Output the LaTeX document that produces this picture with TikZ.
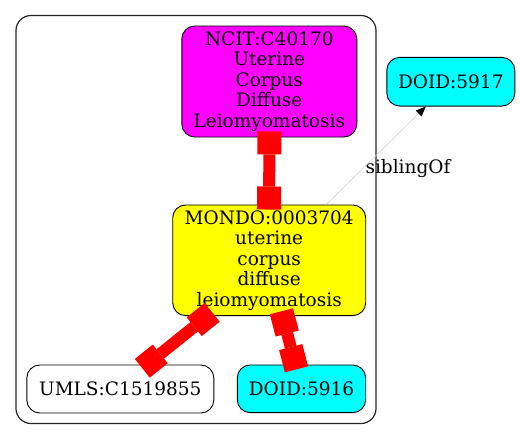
\documentclass[tikz,border=0pt]{standalone}
\usepackage{fontspec}
\setmainfont{DejaVu Serif}
\usetikzlibrary{arrows.meta,calc}
\definecolor{ncitmag}{RGB}{255,0,255}
\definecolor{mondoyel}{RGB}{255,255,0}
\definecolor{doidcyan}{RGB}{0,255,255}
\definecolor{siblgray}{RGB}{212,212,212}
\tikzset{
  gvbox/.tip={Square[length=23pt,width=24pt,line width=0pt]},
  termbox/.style={draw=black,line width=0.9pt,rounded corners=13pt,inner sep=0pt,align=center},
  clusterbox/.style={draw=black!85,line width=1.2pt,rounded corners=15pt,inner sep=0pt},
  xref/.style={draw=red,line width=12pt,gvbox-gvbox},
  sibl/.style={draw=siblgray,line width=0.6pt,-{Triangle[length=10pt,width=8pt,color=black]}}
}
\begin{document}
\begin{tikzpicture}[x=1pt,y=-1pt,font=\fontsize{18.5}{20.5}\selectfont]
    \useasboundingbox (0,0) rectangle (520,440);
    \node[clusterbox,minimum width=360pt,minimum height=408pt] (clu) at (196,219.5) {};
    \node[termbox,fill=ncitmag,minimum width=175pt,minimum height=111pt] (ncit) at (269.3,81.5) {NCIT:C40170\\Uterine\\Corpus\\Diffuse\\Leiomyomatosis};
    \node[termbox,fill=mondoyel,minimum width=193pt,minimum height=110.7pt] (mondo) at (269.2,260.3) {MONDO:0003704\\uterine\\corpus\\diffuse\\leiomyomatosis};
    \node[termbox,fill=white,minimum width=187pt,minimum height=48pt] (umls) at (120.3,389) {UMLS:C1519855};
    \node[termbox,fill=doidcyan,minimum width=128.4pt,minimum height=47.7pt] (d5916) at (301.5,388.8) {DOID:5916};
    \node[termbox,fill=doidcyan,minimum width=128pt,minimum height=48.7pt] (d5917) at (450.8,81.7) {DOID:5917};
    \node (siblbl) at (408,169) {siblingOf};
    \draw[xref,shorten <=-6pt,shorten >=-5pt] (ncit.south) -- (mondo.north);
    \draw[xref,shorten <=-6pt,shorten >=-6pt] ($(mondo.south)+(-61.7,0)$) -- ($(umls.north)+(26.7,0)$);
    \draw[xref,shorten <=-5pt,shorten >=-5pt] ($(mondo.south)+(13.5,0)$) -- ($(d5916.north)+(-6.3,0)$);
    \draw[sibl] ($(mondo.north)+(57,0)$) -- ($(d5917.south)+(-25,0)$);
   \end{tikzpicture}
\end{document}
